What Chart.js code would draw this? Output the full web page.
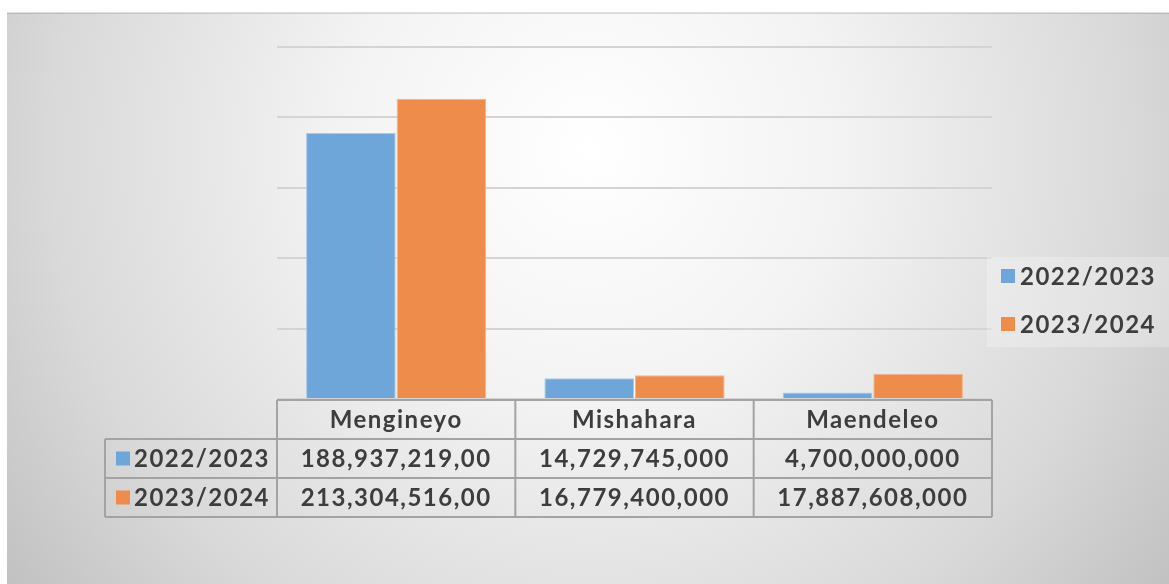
<!DOCTYPE html>
<html><head><meta charset="utf-8">
<script src="https://cdn.jsdelivr.net/npm/chart.js@4"></script>
<style>html,body{margin:0;padding:0;background:#fff;}canvas{display:block;}</style>
</head><body>
<div style="width:1169px;height:584px;position:relative"><canvas id="c" width="1169" height="584"></canvas></div>
<script>
const categories = ['Mengineyo', 'Mishahara', 'Maendeleo'];
const seriesNames = ['2022/2023', '2023/2024'];
const values2022 = [188937219000, 14729745000, 4700000000];
const values2023 = [213304516000, 16779400000, 17887608000];
const labels2022 = ['188,937,219,00', '14,729,745,000', '4,700,000,000'];
const labels2023 = ['213,304,516,00', '16,779,400,000', '17,887,608,000'];
const yMax = 250000000000;
const yStep = 50000000000;

const BLUE = '#6fa6da', ORANGE = '#ee8c4b';
const FONT = 'bold 24px Lato, "DejaVu Sans", sans-serif';
const TXT = '#3d3d3d';

const bgPlugin = {
  id: 'bg',
  beforeDraw(chart) {
    const ctx = chart.ctx;
    ctx.save();
    ctx.fillStyle = '#fff';
    ctx.fillRect(0, 0, 1169, 584);
    const g = ctx.createRadialGradient(590, 150, 0, 590, 150, 720);
    g.addColorStop(0, '#ffffff');
    g.addColorStop(0.35, '#f3f3f3');
    g.addColorStop(0.75, '#d9d9d9');
    g.addColorStop(1, '#c2c2c2');
    ctx.fillStyle = g;
    ctx.fillRect(7, 13, 1162, 571);
    ctx.fillStyle = 'rgba(0,0,0,0.12)';
    ctx.fillRect(7, 12, 1162, 2);
    ctx.restore();
  },
  afterDraw(chart) {
    const ctx = chart.ctx;
    const xs = chart.scales.x;
    const ca = chart.chartArea;
    const n = categories.length;
    const cw = (ca.right - ca.left) / n;
    const rows = [ca.bottom + 1, ca.bottom + 40, ca.bottom + 79, ca.bottom + 118];
    const leftX = 105;
    ctx.save();
    ctx.strokeStyle = '#a3a3a3';
    ctx.lineWidth = 2;
    ctx.beginPath();
    ctx.moveTo(ca.left, rows[0]); ctx.lineTo(ca.right, rows[0]);
    ctx.moveTo(leftX, rows[1]); ctx.lineTo(ca.right, rows[1]);
    ctx.moveTo(leftX, rows[2]); ctx.lineTo(ca.right, rows[2]);
    ctx.moveTo(leftX, rows[3]); ctx.lineTo(ca.right, rows[3]);
    ctx.moveTo(leftX, rows[1]); ctx.lineTo(leftX, rows[3]);
    for (let i = 0; i <= n; i++) {
      const x = ca.left + i * cw;
      ctx.moveTo(x, rows[0]); ctx.lineTo(x, rows[3]);
    }
    ctx.stroke();
    ctx.font = FONT;
    ctx.fillStyle = TXT;
    ctx.textAlign = 'center';
    ctx.textBaseline = 'middle';
    try { ctx.letterSpacing = '1.5px'; } catch (e) {}
    const rowLabels = [labels2022, labels2023];
    for (let i = 0; i < n; i++) {
      const cx = xs.getPixelForValue(i);
      ctx.fillText(categories[i], cx, (rows[0] + rows[1]) / 2 + 1);
      for (let r = 0; r < 2; r++) {
        ctx.fillText(rowLabels[r][i], cx, (rows[r + 1] + rows[r + 2]) / 2 + 1);
      }
    }
    const colors = [BLUE, ORANGE];
    ctx.textAlign = 'left';
    for (let r = 0; r < 2; r++) {
      const cy = (rows[r + 1] + rows[r + 2]) / 2;
      ctx.fillStyle = colors[r];
      ctx.fillRect(116, cy - 7, 14, 14);
      ctx.fillStyle = TXT;
      ctx.fillText(chart.data.datasets[r].label, 134, cy + 1);
    }
    ctx.fillStyle = 'rgba(255,255,255,0.25)';
    ctx.fillRect(987, 257, 182, 90);
    for (let r = 0; r < 2; r++) {
      const cy = 276 + r * 48;
      ctx.fillStyle = colors[r];
      ctx.fillRect(1001, cy - 7, 14, 14);
      ctx.fillStyle = TXT;
      ctx.fillText(chart.data.datasets[r].label, 1020, cy + 1);
    }
    ctx.restore();
  }
};

new Chart(document.getElementById('c'), {
  type: 'bar',
  data: {
    labels: categories,
    datasets: [
      { label: seriesNames[0], data: values2022, backgroundColor: BLUE, borderColor: '#a9cbea', borderWidth: 1 },
      { label: seriesNames[1], data: values2023, backgroundColor: ORANGE, borderColor: '#f5b68c', borderWidth: 1 }
    ]
  },
  options: {
    responsive: false,
    animation: false,
    layout: { padding: { left: 277, right: 177, top: 47, bottom: 185 } },
    plugins: { legend: { display: false }, tooltip: { enabled: false }, title: { display: false } },
    datasets: { bar: { categoryPercentage: 0.76, barPercentage: 0.99 } },
    scales: {
      x: { display: false },
      y: {
        display: true,
        min: 0, max: yMax,
        ticks: { display: false, stepSize: yStep },
        border: { display: false },
        grid: { color: '#d4d4d4', lineWidth: 2, drawTicks: false }
      }
    }
  },
  plugins: [bgPlugin]
});
</script>
</body></html>
